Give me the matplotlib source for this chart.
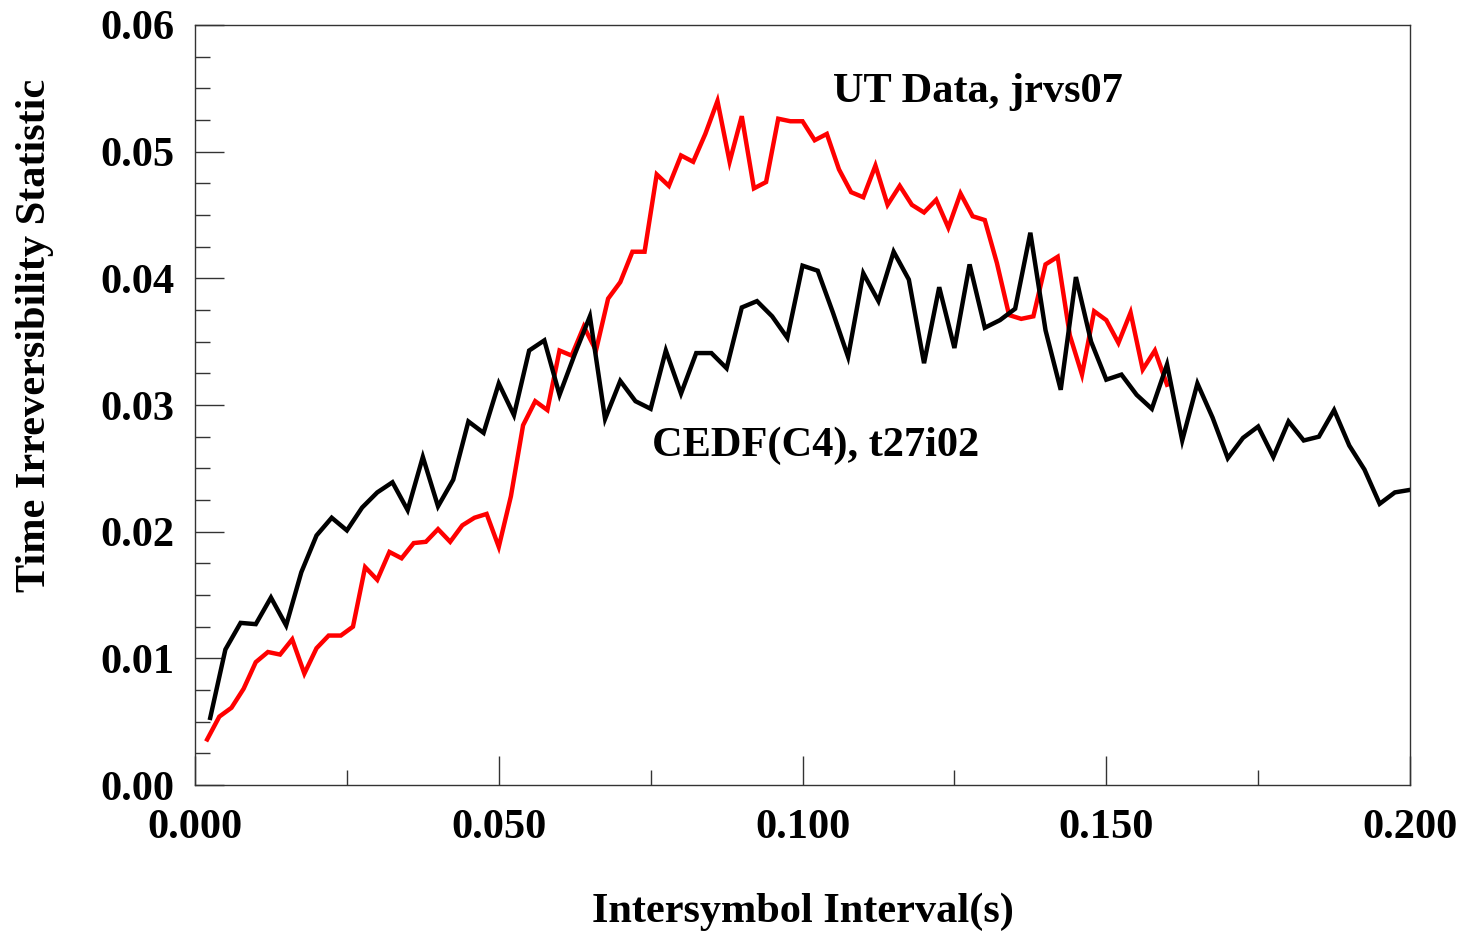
import numpy as np
import matplotlib
matplotlib.use("Agg")
import matplotlib.pyplot as plt
from matplotlib.ticker import MultipleLocator, FormatStrFormatter

# UT data, jrvs07 (sampled every 2 ms)
ut_x = np.arange(1, 81) * 0.002
ut_y = [0.0036, 0.0054, 0.0061, 0.0076, 0.0097, 0.0105, 0.0103, 0.0115, 0.0088, 0.0108,
        0.0118, 0.0118, 0.0125, 0.0172, 0.0162, 0.0184, 0.0179, 0.0191, 0.0192, 0.0202,
        0.0192, 0.0205, 0.0211, 0.0214, 0.0188, 0.0228, 0.0284, 0.0303, 0.0296, 0.0343,
        0.0339, 0.0362, 0.0343, 0.0384, 0.0397, 0.0421, 0.0421, 0.0482, 0.0473, 0.0497,
        0.0492, 0.0514, 0.0540, 0.0492, 0.0528, 0.0471, 0.0476, 0.0526, 0.0524, 0.0524,
        0.0509, 0.0514, 0.0486, 0.0468, 0.0464, 0.0489, 0.0458, 0.0473, 0.0458, 0.0452,
        0.0462, 0.0440, 0.0467, 0.0449, 0.0446, 0.0412, 0.0371, 0.0368, 0.0370, 0.0411,
        0.0417, 0.0355, 0.0324, 0.0374, 0.0367, 0.0349, 0.0373, 0.0328, 0.0343, 0.0316]

# CEDF(C4), t27i02 (sampled every 2.5 ms)
cedf_x = np.arange(1, 81) * 0.0025
cedf_y = [0.0053, 0.0107, 0.0128, 0.0127, 0.0148, 0.0126, 0.0168, 0.0197, 0.0211, 0.0201,
          0.0219, 0.0231, 0.0239, 0.0217, 0.0259, 0.0220, 0.0241, 0.0287, 0.0278, 0.0317,
          0.0292, 0.0343, 0.0351, 0.0308, 0.0340, 0.0370, 0.0289, 0.0319, 0.0303, 0.0297,
          0.0343, 0.0309, 0.0341, 0.0341, 0.0329, 0.0377, 0.0382, 0.0370, 0.0353, 0.0410,
          0.0406, 0.0373, 0.0338, 0.0404, 0.0382, 0.0421, 0.0399, 0.0333, 0.0393, 0.0345,
          0.0411, 0.0361, 0.0367, 0.0376, 0.0436, 0.0359, 0.0312, 0.0401, 0.0350, 0.0320,
          0.0324, 0.0308, 0.0297, 0.0332, 0.0272, 0.0317, 0.0290, 0.0258, 0.0274, 0.0283,
          0.0259, 0.0287, 0.0272, 0.0275, 0.0296, 0.0268, 0.0249, 0.0222, 0.0231, 0.0233]

plt.rcParams['font.family'] = ['Liberation Serif', 'DejaVu Serif']
plt.rcParams['font.weight'] = 'bold'
fs = 30.5

fig = plt.figure(figsize=(14.63, 9.32), dpi=100)
ax = fig.add_axes([0.1333, 0.1577, 0.8305, 0.8155])

ax.plot(ut_x, ut_y, color='#ff0000', lw=3.2, solid_joinstyle='miter')
ax.plot(cedf_x, cedf_y, color='black', lw=3.2, solid_joinstyle='miter')

ax.text(0.105, 0.0547, 'UT Data, jrvs07', fontsize=fs, fontweight='bold', va='center')
ax.text(0.0752, 0.0268, 'CEDF(C4), t27i02', fontsize=fs, fontweight='bold', va='center')

ax.set_xlim(0, 0.2)
ax.set_ylim(0, 0.06)
ax.xaxis.set_major_locator(MultipleLocator(0.05))
ax.xaxis.set_minor_locator(MultipleLocator(0.025))
ax.yaxis.set_major_locator(MultipleLocator(0.01))
ax.yaxis.set_minor_locator(MultipleLocator(0.0025))
ax.xaxis.set_major_formatter(FormatStrFormatter('%.3f'))
ax.yaxis.set_major_formatter(FormatStrFormatter('%.2f'))

ax.tick_params(which='both', direction='in', top=False, right=False, width=1, color='#333333')
ax.tick_params(which='major', length=21, labelsize=fs)
ax.tick_params(axis='x', which='major', pad=17)
ax.tick_params(axis='y', which='major', pad=15)
ax.tick_params(which='minor', length=11)
for lbl in ax.get_xticklabels() + ax.get_yticklabels():
    lbl.set_fontweight('bold')
for s in ax.spines.values():
    s.set_linewidth(1.0)
    s.set_color('#333333')

ax.set_xlabel('Intersymbol Interval(s)', fontsize=fs, fontweight='bold', labelpad=33)
ax.set_ylabel('Time Irreversibility Statistic', fontsize=fs, fontweight='bold')
ax.yaxis.set_label_coords(-0.116, 0.592)

fig.savefig('out.png', dpi=100)
